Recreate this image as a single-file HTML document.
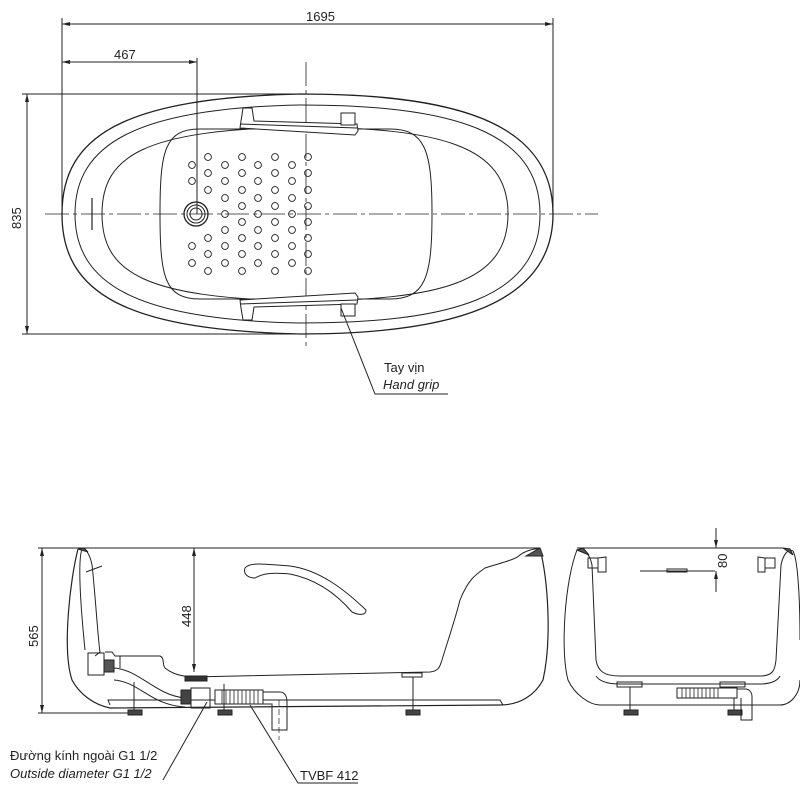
<!DOCTYPE html>
<html><head><meta charset="utf-8"><style>
html,body{margin:0;padding:0;background:#fff}
svg{display:block}
text{font-family:"Liberation Sans",sans-serif;fill:#222}
</style></head><body>
<svg width="800" height="800" viewBox="0 0 800 800" xmlns="http://www.w3.org/2000/svg">
<defs>
<marker id="a" markerWidth="8" markerHeight="6" refX="8" refY="3" orient="auto-start-reverse" markerUnits="userSpaceOnUse"><path d="M0,1 L8,3 L0,5 Z" fill="#222"/></marker>
</defs>
<g stroke="#222" fill="none" stroke-width="1">
<line x1="62" y1="18" x2="62" y2="220"/>
<line x1="553" y1="18" x2="553" y2="220"/>
<line x1="62" y1="24" x2="553" y2="24" marker-start="url(#a)" marker-end="url(#a)"/>
<line x1="197" y1="58" x2="197" y2="214"/>
<line x1="62" y1="62" x2="197" y2="62" marker-start="url(#a)" marker-end="url(#a)"/>
<line x1="22" y1="94" x2="300" y2="94"/>
<line x1="22" y1="334" x2="300" y2="334"/>
<line x1="27" y1="94" x2="27" y2="334" marker-start="url(#a)" marker-end="url(#a)"/>
<line x1="45" y1="214" x2="598" y2="214" stroke-dasharray="24,4,4,4" stroke-width="0.8"/>
<line x1="306" y1="62" x2="306" y2="346" stroke-dasharray="24,4,4,4" stroke-width="0.8"/>
<path d="M62,214 C62,135 125,98 300,94 C450,94 553,120 553,214 C553,305 450,334 300,334 C125,330 62,293 62,214 Z" stroke-width="1.3"/>
<path d="M75,214 C75,145 135,108 300,105 C450,105 540,130 540,214 C540,298 450,323 300,323 C135,320 75,283 75,214 Z"/>
<path d="M102,214 C102,155 145,130 300,127 C440,128 508,145 508,214 C508,283 440,300 300,301 C145,298 102,273 102,214 Z"/>
<path d="M200,129 L390,129 C425,129 432,150 432,214 C432,278 425,299 390,299 L200,299 C165,299 160,278 160,214 C160,150 165,129 200,129 Z"/>
<line x1="92" y1="198" x2="92" y2="230" stroke-width="1.2"/>
<circle cx="196" cy="214" r="12" stroke-width="1.3"/>
<circle cx="196" cy="214" r="9"/>
<circle cx="196" cy="214" r="6"/>
<path d="M241,121 L243,108 L252,108 L254,121 L357,124 L358,131 L355,135 L240,128 Z" fill="#fff"/>
<line x1="240" y1="124" x2="357" y2="128"/>
<rect x="341" y="113" width="14" height="12" fill="#fff"/>
<path d="M241,308 L243,320 L252,320 L254,307 L357,304 L358,297 L355,293 L240,300 Z" fill="#fff"/>
<line x1="240" y1="304" x2="357" y2="300"/>
<rect x="341" y="304" width="14" height="12" fill="#fff"/>
<polyline points="341,308 375,394 448,394"/>
</g>
<g stroke="#222" fill="none" stroke-width="0.9">
<circle cx="192" cy="165" r="3.4"/><circle cx="192" cy="181" r="3.4"/><circle cx="192" cy="246" r="3.4"/><circle cx="192" cy="263" r="3.4"/>
<circle cx="208" cy="157" r="3.4"/><circle cx="208" cy="173" r="3.4"/><circle cx="208" cy="190" r="3.4"/><circle cx="208" cy="238" r="3.4"/><circle cx="208" cy="254" r="3.4"/><circle cx="208" cy="271" r="3.4"/>
<circle cx="225" cy="165" r="3.4"/><circle cx="225" cy="181" r="3.4"/><circle cx="225" cy="198" r="3.4"/><circle cx="225" cy="214" r="3.4"/><circle cx="225" cy="230" r="3.4"/><circle cx="225" cy="246" r="3.4"/><circle cx="225" cy="263" r="3.4"/>
<circle cx="242" cy="157" r="3.4"/><circle cx="242" cy="173" r="3.4"/><circle cx="242" cy="190" r="3.4"/><circle cx="242" cy="206" r="3.4"/><circle cx="242" cy="222" r="3.4"/><circle cx="242" cy="238" r="3.4"/><circle cx="242" cy="254" r="3.4"/><circle cx="242" cy="271" r="3.4"/>
<circle cx="258" cy="165" r="3.4"/><circle cx="258" cy="181" r="3.4"/><circle cx="258" cy="198" r="3.4"/><circle cx="258" cy="214" r="3.4"/><circle cx="258" cy="230" r="3.4"/><circle cx="258" cy="246" r="3.4"/><circle cx="258" cy="263" r="3.4"/>
<circle cx="275" cy="157" r="3.4"/><circle cx="275" cy="173" r="3.4"/><circle cx="275" cy="190" r="3.4"/><circle cx="275" cy="206" r="3.4"/><circle cx="275" cy="222" r="3.4"/><circle cx="275" cy="238" r="3.4"/><circle cx="275" cy="254" r="3.4"/><circle cx="275" cy="271" r="3.4"/>
<circle cx="292" cy="165" r="3.4"/><circle cx="292" cy="181" r="3.4"/><circle cx="292" cy="198" r="3.4"/><circle cx="292" cy="214" r="3.4"/><circle cx="292" cy="230" r="3.4"/><circle cx="292" cy="246" r="3.4"/><circle cx="292" cy="263" r="3.4"/>
<circle cx="308" cy="157" r="3.4"/><circle cx="308" cy="173" r="3.4"/><circle cx="308" cy="190" r="3.4"/><circle cx="308" cy="206" r="3.4"/><circle cx="308" cy="222" r="3.4"/><circle cx="308" cy="238" r="3.4"/><circle cx="308" cy="254" r="3.4"/><circle cx="308" cy="271" r="3.4"/>
</g>
<text x="306" y="21" font-size="13">1695</text>
<text x="114" y="59" font-size="13">467</text>
<text x="0" y="0" font-size="13" transform="translate(21,229) rotate(-90)">835</text>
<text x="384" y="372" font-size="13">Tay vịn</text>
<text x="383" y="389" font-size="13" font-style="italic">Hand grip</text>

<g stroke="#222" fill="none" stroke-width="1">
<line x1="38" y1="548" x2="540" y2="548"/>
<line x1="38" y1="713" x2="140" y2="713"/>
<line x1="42" y1="548" x2="42" y2="713" marker-start="url(#a)" marker-end="url(#a)"/>
<line x1="194" y1="548" x2="194" y2="672" marker-start="url(#a)" marker-end="url(#a)"/>
<path d="M78,549 C70,580 62,650 72,680 C80,695 95,705 110,708 L500,705 C520,705 535,695 543,680 C552,640 548,580 540,549" stroke-width="1.2"/>
<path d="M110,705 L108,700 L500,700 L503,705"/>
<path d="M82,549 C86,548 90,555 92,565 C95,590 98,640 100,652 L95,656"/>
<path d="M82,549 C78,560 80,600 85,650" />
<path d="M88,552 L84,548 L78,549 Z" fill="#555"/>
<line x1="86" y1="572" x2="102" y2="566"/>
<path d="M105,652 L112,652 L115,656 L160,656 C165,658 162,665 165,668 C170,672 175,675 190,677 L430,672 C440,671 440,665 442,660 C448,640 455,620 460,600 C468,580 475,575 485,568 C500,563 515,560 520,555 C525,551 535,548 540,549"/>
<path d="M120,656 L120,668"/>
<rect x="88" y="653" width="16" height="22"/>
<rect x="104" y="660" width="10" height="12" fill="#555"/>
<path d="M114,668 C140,670 155,695 185,698 M114,680 C140,682 150,705 185,707"/>
<rect x="181" y="690" width="10" height="14" fill="#444"/>
<path d="M191,688 L210,688 L210,708 L191,708 Z"/>
<rect x="185" y="676" width="22" height="5" fill="#333"/>
<rect x="215" y="690" width="48" height="14" fill="#fff"/>
<g stroke-width="0.8">
<line x1="222" y1="690" x2="222" y2="704"/><line x1="226" y1="690" x2="226" y2="704"/><line x1="230" y1="690" x2="230" y2="704"/><line x1="234" y1="690" x2="234" y2="704"/><line x1="238" y1="690" x2="238" y2="704"/><line x1="242" y1="690" x2="242" y2="704"/><line x1="246" y1="690" x2="246" y2="704"/><line x1="250" y1="690" x2="250" y2="704"/><line x1="254" y1="690" x2="254" y2="704"/><line x1="258" y1="690" x2="258" y2="704"/>
</g>
<path d="M263,692 L280,692 C285,692 287,697 287,702 L287,730 L272,730 L272,704 L263,704"/>
<line x1="279" y1="700" x2="279" y2="740" stroke-dasharray="6,3" stroke-width="0.7"/>
<line x1="134" y1="682" x2="134" y2="710"/><rect x="128" y="710" width="14" height="5" fill="#444"/>
<line x1="224" y1="684" x2="224" y2="710"/><rect x="218" y="710" width="14" height="5" fill="#444"/>
<line x1="413" y1="677" x2="413" y2="710"/><rect x="406" y="710" width="14" height="5" fill="#444"/>
<rect x="402" y="673" width="20" height="4"/>
<path d="M245,568 C250,562 262,564 290,566 C320,570 345,590 366,610 C366,616 358,615 352,612 C340,598 320,580 290,574 C270,572 262,574 255,578 C248,578 243,574 245,568 Z"/>
<path d="M526,556 L540,548 L543,556 Z" fill="#555"/>
<line x1="207" y1="702" x2="163" y2="780"/>
<polyline points="250,705 298,783 358,783"/>
</g>
<text x="0" y="0" font-size="13" transform="translate(38,647) rotate(-90)">565</text>
<text x="0" y="0" font-size="13" transform="translate(191,627) rotate(-90)">448</text>
<text x="10" y="760" font-size="13">Đường kính ngoài G1 1/2</text>
<text x="10" y="778" font-size="13" font-style="italic">Outside diameter G1 1/2</text>
<text x="300" y="780" font-size="13">TVBF 412</text>

<g stroke="#222" fill="none" stroke-width="1">
<line x1="577" y1="548" x2="783" y2="548"/>
<path d="M577,550 C565,580 560,650 568,680 C575,695 590,705 600,705 L780,705 C790,705 800,695 800,680"/>
<path d="M577,550 C585,548 590,555 592,565 L596,660 C598,672 605,676 620,676 L760,676 C773,676 775,670 776,660 L781,565 C783,555 788,548 793,551 C798,560 800,600 800,640"/>
<path d="M577,550 L583,548 L589,555 Z" fill="#555"/>
<path d="M783,548 L790,549 L793,555 Z" fill="#555"/>
<path d="M596,676 C600,682 610,684 620,684 L760,684 C772,684 778,680 780,676"/>
<rect x="588" y="558" width="10" height="10"/><path d="M598,558 L606,557 L606,572 L598,572 Z"/>
<rect x="765" y="558" width="10" height="10"/><path d="M765,558 L758,557 L758,572 L765,572 Z"/>
<line x1="640" y1="571" x2="715" y2="571"/>
<rect x="667" y="569" width="20" height="3"/>
<line x1="716" y1="528" x2="716" y2="548" marker-end="url(#a)"/>
<line x1="716" y1="592" x2="716" y2="571" marker-end="url(#a)"/>
<rect x="617" y="682" width="25" height="5"/>
<line x1="630" y1="687" x2="630" y2="710"/><rect x="624" y="710" width="14" height="5" fill="#444"/>
<rect x="720" y="682" width="25" height="5"/>
<line x1="734" y1="687" x2="734" y2="710"/><rect x="728" y="710" width="14" height="5" fill="#444"/>
<rect x="677" y="688" width="60" height="10" fill="#fff"/>
<g stroke-width="0.8"><line x1="682" y1="688" x2="682" y2="698"/><line x1="686" y1="688" x2="686" y2="698"/><line x1="690" y1="688" x2="690" y2="698"/><line x1="694" y1="688" x2="694" y2="698"/><line x1="698" y1="688" x2="698" y2="698"/><line x1="702" y1="688" x2="702" y2="698"/><line x1="706" y1="688" x2="706" y2="698"/><line x1="710" y1="688" x2="710" y2="698"/><line x1="714" y1="688" x2="714" y2="698"/><line x1="718" y1="688" x2="718" y2="698"/></g>
<path d="M737,689 L745,689 C750,689 752,693 752,697 L752,720 L741,720 L741,698"/>
</g>
<text x="0" y="0" font-size="13" transform="translate(727,568) rotate(-90)">80</text>
</svg>
</body></html>
